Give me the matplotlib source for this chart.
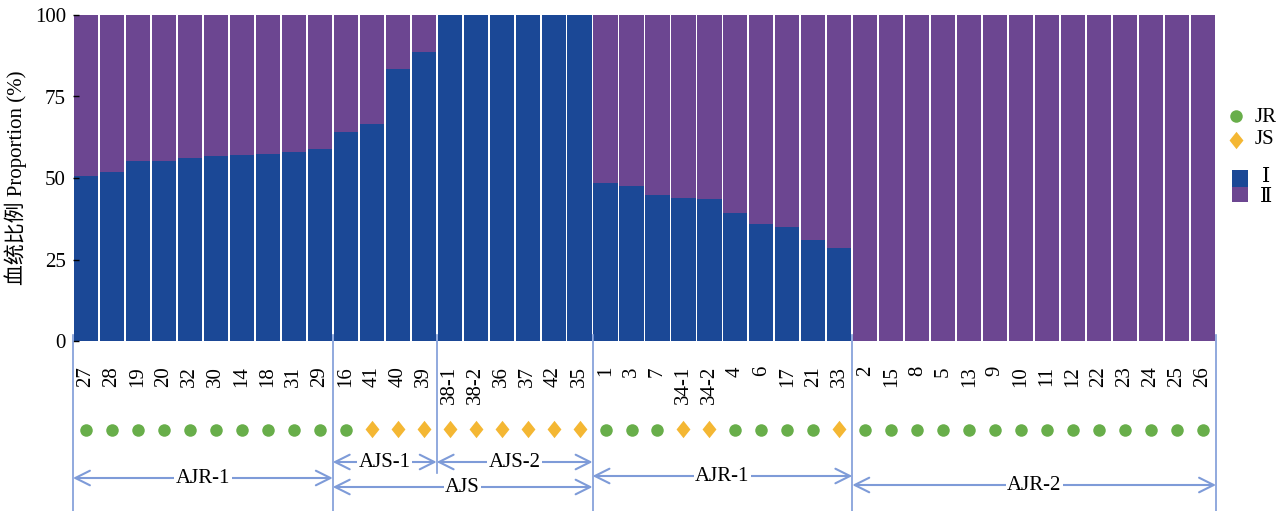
import matplotlib.pyplot as plt
from matplotlib.lines import Line2D
from matplotlib.patches import Rectangle

plt.rcParams['font.family'] = ['Liberation Serif', 'DejaVu Serif', 'Noto Sans CJK SC']
plt.rcParams['font.size'] = 15

# sample labels, in plotting order
samples = ['27', '28', '19', '20', '32', '30', '14', '18', '31', '29',
           '16', '41', '40', '39',
           '38-1', '38-2', '36', '37', '42', '35',
           '1', '3', '7', '34-1', '34-2', '4', '6', '17', '21', '33',
           '2', '15', '8', '5', '13', '9', '10', '11', '12', '22', '23', '24', '25', '26']

# proportion of lineage I (%)
lineage_1 = [50.6, 51.7, 55.2, 55.2, 56.0, 56.8, 57.2, 57.5, 57.9, 58.8,
             64.2, 66.6, 83.3, 88.7,
             100, 100, 100, 100, 100, 100,
             48.6, 47.5, 44.7, 43.9, 43.6, 39.4, 35.9, 35.1, 31.1, 28.4,
             0, 0, 0, 0, 0, 0, 0, 0, 0, 0, 0, 0, 0, 0]

# habitat type of each sample
habitat = ['JR'] * 10 + ['JR', 'JS', 'JS', 'JS'] + ['JS'] * 6 + \
          ['JR', 'JR', 'JR', 'JS', 'JS', 'JR', 'JR', 'JR', 'JR', 'JS'] + ['JR'] * 14

# cluster brackets: (label, first index, last index, level)
clusters = [('AJR-1', 0, 9, 'low'), ('AJS-1', 10, 13, 'high'), ('AJS-2', 14, 19, 'high'),
            ('AJS', 10, 19, 'bottom'), ('AJR-1', 20, 29, 'mid'), ('AJR-2', 30, 43, 'bottom2')]
bounds = [-0.5, 9.5, 13.5, 19.5, 29.5, 43.5]

c_one = '#1B4896'
c_two = '#6C4691'
c_jr = '#68AE4A'
c_js = '#F4B733'
c_line = '#7E9BD8'

# a diamond a bit wider than matplotlib's 'd'
diamond = [(-0.8, 0), (0, 1), (0.8, 0), (0, -1), (-0.8, 0)]

lineage_2 = [100 - v for v in lineage_1]
x = list(range(len(samples)))

fig = plt.figure(figsize=(12.88, 5.11), dpi=100)
ax = fig.add_axes([73 / 1288, 1 - 341 / 511, (1216 - 73) / 1288, 326 / 511])

ax.bar(x, lineage_1, width=0.93, color=c_one, linewidth=0)
ax.bar(x, lineage_2, width=0.93, bottom=lineage_1, color=c_two, linewidth=0)

ax.set_xlim(-0.5, len(samples) - 0.5)
ax.set_ylim(0, 100)
ax.set_yticks([0, 25, 50, 75, 100])
ax.set_xticks(x)
ax.set_xticklabels(samples, rotation=90, va='top', ha='center')
ax.tick_params(axis='x', length=0, pad=18)
ax.tick_params(axis='y', direction='in', length=4, width=1, pad=5)
for s in ax.spines.values():
    s.set_visible(False)
ax.set_ylabel('血统比例 Proportion (%)', labelpad=6)

def fy(py):
    # pixel row below the axes -> axes fraction
    return (341 - py) / 326

tr = ax.get_xaxis_transform()

# habitat markers
for i, h in enumerate(habitat):
    if h == 'JR':
        ax.plot(i, fy(430), 'o', color=c_jr, ms=9, mec='none', transform=tr, clip_on=False)
    else:
        ax.plot(i, fy(429), marker=diamond, color=c_js, ms=12.5, mec='none', transform=tr,
                clip_on=False)

# group separators
ends = {-0.5: 511, 9.5: 511, 13.5: 473, 19.5: 511, 29.5: 511, 43.5: 511}
for b in bounds:
    ax.plot([b, b], [fy(335), fy(ends[b])], color=c_line, lw=1.2, transform=tr, clip_on=False)

levels = {'high': 462, 'mid': 476, 'low': 478, 'bottom': 487, 'bottom2': 485}
for name, i0, i1, lev in clusters:
    yy = fy(levels[lev])
    ax.annotate('', xy=(i0 - 0.5, yy), xytext=(i1 + 0.5, yy), xycoords=tr, textcoords=tr,
                arrowprops=dict(arrowstyle='<->,head_length=0.7,head_width=0.35',
                                color=c_line, lw=1.5, shrinkA=0, shrinkB=0))
    ax.text((i0 + i1) / 2, yy, name, transform=tr, ha='center', va='center',
            bbox=dict(facecolor='white', edgecolor='none', pad=1))

# legend
fig.add_artist(Line2D([1236 / 1288], [1 - 116 / 511], marker='o', color=c_jr, ms=9,
                      mec='none', transform=fig.transFigure))
fig.add_artist(Line2D([1236 / 1288], [1 - 140 / 511], marker=diamond, color=c_js, ms=12.5,
                      mec='none', transform=fig.transFigure))
fig.text(1255 / 1288, 1 - 117 / 511, 'JR', va='center', ha='left')
fig.text(1255 / 1288, 1 - 140 / 511, 'JS', va='center', ha='left')
fig.add_artist(Rectangle((1232 / 1288, 1 - 187 / 511), 16 / 1288, 17 / 511,
                         facecolor=c_one, edgecolor='none', transform=fig.transFigure))
fig.add_artist(Rectangle((1232 / 1288, 1 - 202 / 511), 16 / 1288, 15 / 511,
                         facecolor=c_two, edgecolor='none', transform=fig.transFigure))
fig.text(1266 / 1288, 1 - 177 / 511, 'Ⅰ', va='center', ha='center')
fig.text(1266 / 1288, 1 - 197 / 511, 'Ⅱ', va='center', ha='center')

fig.savefig('out.png', dpi=100)
